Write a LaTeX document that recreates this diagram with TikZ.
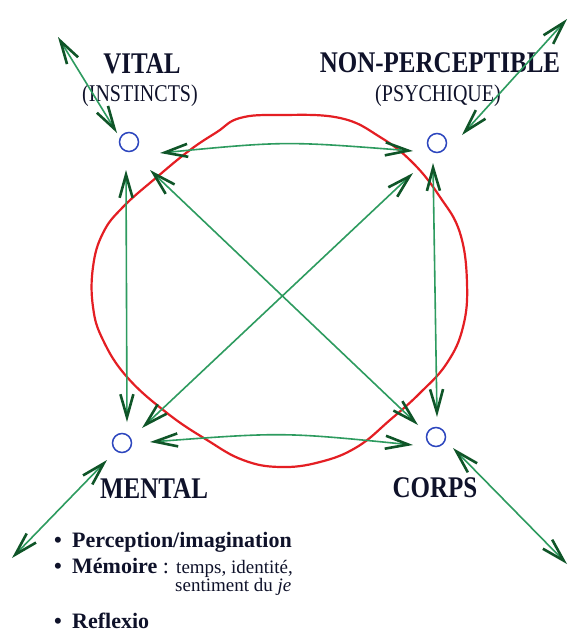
\documentclass[tikz,border=0pt]{standalone}
\usepackage{fontspec}
\setmainfont{Liberation Serif}
\usetikzlibrary{arrows.meta}
\definecolor{pen}{RGB}{45,155,95}
\definecolor{pendark}{RGB}{15,85,40}
\definecolor{redpen}{RGB}{228,30,35}
\definecolor{bluepen}{RGB}{45,70,190}
\definecolor{ink}{RGB}{15,18,42}
\begin{document}
\begin{tikzpicture}[x=1pt,y=-1pt,
  pt/.style={circle,draw=bluepen,line width=1.5pt,minimum size=19pt,inner sep=0pt},
  barb/.tip={Straight Barb[length=23pt,width=13pt,line width=2.6pt,color=pendark]},
  link/.style={draw=pen,line width=1.6pt,arrows={barb-barb}},
  title/.style={text=ink,font=\fontsize{25}{28}\selectfont\bfseries,anchor=base},
  sub/.style={text=ink,font=\fontsize{20}{24}\selectfont,anchor=base},
  item/.style={text=ink,font=\fontsize{22}{26}\selectfont\bfseries,anchor=base west,inner sep=0pt},
  small/.style={text=ink,font=\fontsize{19}{22}\selectfont,anchor=base west,inner sep=0pt}
]
\fill[white] (0,0) rectangle (569,632);
\useasboundingbox (0,0) rectangle (569,632);

% red closed curve
\draw[redpen,line width=2.2pt] plot[smooth cycle,tension=0.7] coordinates {(217,132) (240,118) (280,115) (340,118) (380,137) (413,163) (440,197) (460,233) (467,283) (463,327) (447,363) (420,393) (390,420) (357,447) (320,462) (280,467) (243,460) (207,440) (167,413) (127,377) (103,340) (93,307) (93,267) (103,233) (123,207) (157,177) (190,150)};

% points
\node[pt] (v) at (129,142) {};
\node[pt] (n) at (437,143) {};
\node[pt] (m) at (122,443) {};
\node[pt] (c) at (436,437) {};

% free ends
\coordinate (vo) at (58,37);
\coordinate (no) at (567,19);
\coordinate (mo) at (12,558);
\coordinate (co) at (567,564);

% labels
\node[title] (tv) at (142,73) {\scalebox{1}[1.2]{VITAL}};
\node[sub] (sv) at (140,101) {\scalebox{1}[1.2]{(INSTINCTS)}};
\node[title] (tn) at (440,72) {\scalebox{1}[1.2]{NON-PERCEPTIBLE}};
\node[sub] (sn) at (438,101) {\scalebox{1}[1.2]{(PSYCHIQUE)}};
\node[title] (tm) at (154,498) {\scalebox{1}[1.2]{MENTAL}};
\node[title] (tc) at (435,497) {\scalebox{1}[1.2]{CORPS}};

\node[item] (l1) at (54,547) {\makebox[18pt][l]{\textbullet}Perception/imagination};
\node[item] (l2) at (54,573) {\makebox[18pt][l]{\textbullet}Mémoire\mdseries{} : {\fontsize{19}{22}\selectfont temps, identité,}};
\node[small] (l3) at (175,591) {sentiment du \textit{je}};
\node[item] (l4) at (54,628) {\makebox[18pt][l]{\textbullet}Reflexio};

% connectors between points
\draw[link] ([shift={(31,11)}]v.center) .. controls (285,141) .. ([shift={(-24,8)}]n.center);
\draw[link] ([shift={(28,-1)}]m.center) .. controls (283,432) .. ([shift={(-23,8)}]c.center);
\draw[link] ([shift={(-3,28)}]v.center) -- ([shift={(5,-21)}]m.center);
\draw[link] ([shift={(-4,20)}]n.center) -- ([shift={(1,-20)}]c.center);
\draw[link] ([shift={(21,28)}]v.center) -- ([shift={(-18,-12)}]c.center);
\draw[link] ([shift={(-24,30)}]n.center) -- ([shift={(20,-15)}]m.center);

% connectors to the outside
\draw[link] (vo) -- ([shift={(-12,-9)}]v.center);
\draw[link] (no) -- ([shift={(25,-8)}]n.center);
\draw[link] (mo) -- ([shift={(-15,17)}]m.center);
\draw[link] (co) -- ([shift={(17,11)}]c.center);
\end{tikzpicture}
\end{document}
